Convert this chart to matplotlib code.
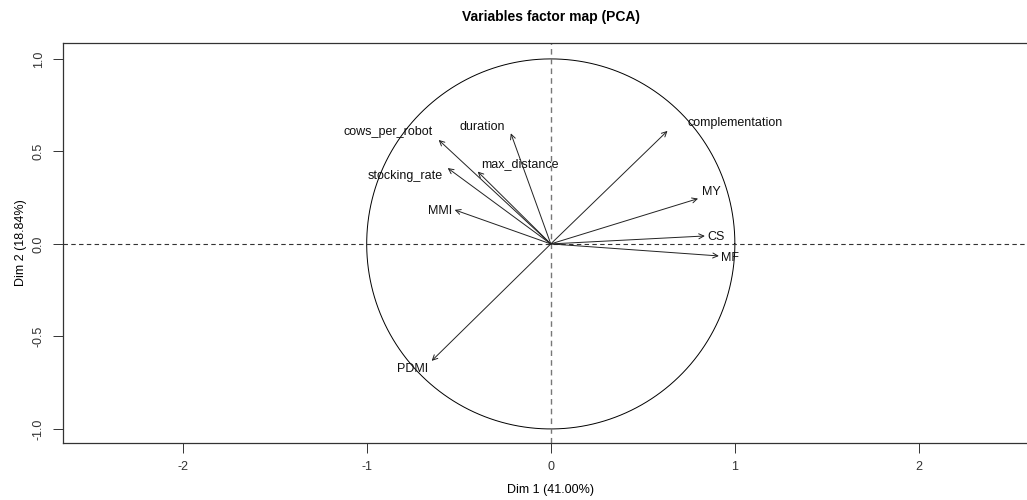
import numpy as np
import matplotlib.pyplot as plt

plt.rcParams['font.family'] = ['Liberation Sans', 'DejaVu Sans']
plt.rcParams['axes.unicode_minus'] = False

variables = ['complementation', 'MY', 'CS', 'MF', 'duration', 'cows_per_robot',
             'max_distance', 'stocking_rate', 'MMI', 'PDMI']
dim1 = [0.634, 0.80, 0.837, 0.913, -0.217, -0.609, -0.397, -0.56, -0.522, -0.647]
dim2 = [0.611, 0.245, 0.043, -0.065, 0.598, 0.562, 0.391, 0.41, 0.184, -0.632]

# label anchor points (data units)
lab_x = [1.0, 0.875, 0.897, 0.973, -0.37, -0.886, -0.168, -0.793, -0.603, -0.75]
lab_y = [0.654, 0.281, 0.038, -0.076, 0.632, 0.605, 0.432, 0.368, 0.178, -0.676]

fig = plt.figure(figsize=(10.27, 5.0), dpi=100)
ax = fig.add_axes([0.0613, 0.114, 0.950, 0.800])

ax.set_xlim(-2.65, 2.65)
ax.set_ylim(-1.076, 1.086)

t = np.linspace(0, 2 * np.pi, 400)
ax.plot(np.cos(t), np.sin(t), color='black', lw=0.7)
ax.axhline(0, color='#333333', lw=0.8, ls=(0, (4, 3)))
ax.axvline(0, color='#777777', lw=1.0, ls=(0, (4, 3)))

for x, y in zip(dim1, dim2):
    ax.annotate('', xy=(x, y), xytext=(0, 0),
                arrowprops=dict(arrowstyle='->', color='#222222', lw=0.7,
                                shrinkA=0, shrinkB=0, mutation_scale=9))
for name, lx, ly in zip(variables, lab_x, lab_y):
    ax.text(lx, ly, name, ha='center', va='center', fontsize=9, color='#111111')

ax.set_xticks([-2, -1, 0, 1, 2])
ax.set_yticks([-1.0, -0.5, 0.0, 0.5, 1.0])
ax.set_yticklabels(['-1.0', '-0.5', '0.0', '0.5', '1.0'], rotation=90, va='center')
ax.tick_params(direction='out', length=7, width=0.7, labelsize=9, pad=6, colors='#333333')
for s in ax.spines.values():
    s.set_linewidth(0.9)
    s.set_color('#333333')

ax.set_xlabel('Dim 1 (41.00%)', fontsize=9, labelpad=8)
ax.set_ylabel('Dim 2 (18.84%)', fontsize=9, labelpad=4)
fig.text(0.5365, 0.966, 'Variables factor map (PCA)', ha='center', va='center',
         fontsize=10, fontweight='bold')

fig.savefig('out.png', dpi=100)
